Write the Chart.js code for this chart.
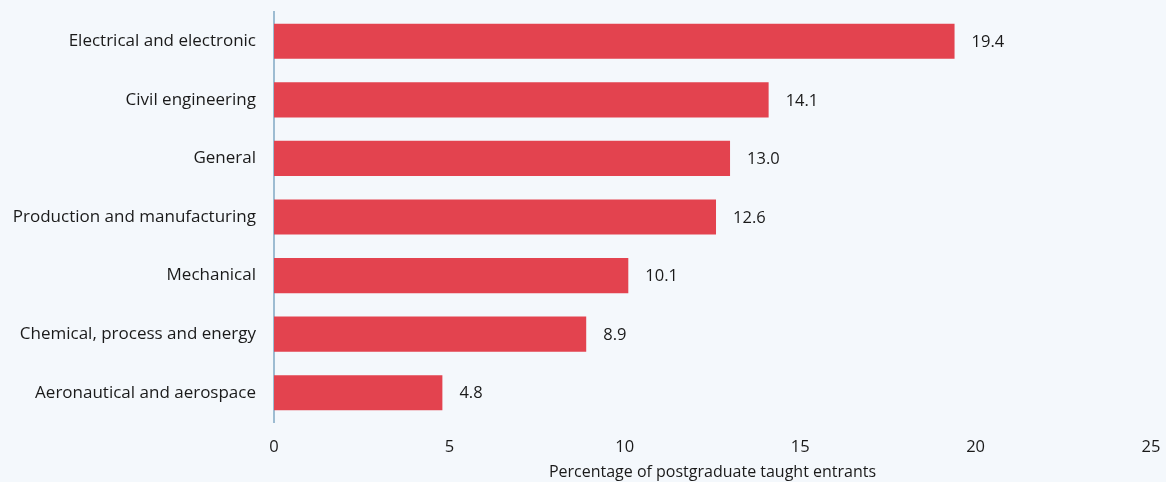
<!DOCTYPE html>
<html>
<head>
<meta charset="utf-8">
<script src="https://cdn.jsdelivr.net/npm/chart.js@4"></script>
<style>
  html, body { margin: 0; padding: 0; background: #f4f8fc; }
  #wrap { width: 1166px; height: 482px; position: relative; }
</style>
</head>
<body>
<div id="wrap"><canvas id="grafico"></canvas></div>
<script>
// categorias y valores del grafico
const categorias = [
  "Electrical and electronic",
  "Civil engineering",
  "General",
  "Production and manufacturing",
  "Mechanical",
  "Chemical, process and energy",
  "Aeronautical and aerospace"
];
const valores = [19.4, 14.1, 13.0, 12.6, 10.1, 8.9, 4.8];
const ticksX = [0, 5, 10, 15, 20, 25];
const tituloX = "Percentage of postgraduate taught entrants";

const fuente = "'Open Sans', sans-serif";

// etiquetas de valor al final de cada barra
const etiquetasValor = {
  id: "etiquetasValor",
  afterDatasetsDraw(chart) {
    const ctx = chart.ctx;
    const meta = chart.getDatasetMeta(0);
    ctx.save();
    ctx.font = "16.5px " + fuente;
    ctx.fillStyle = "#1a1a1a";
    ctx.textBaseline = "middle";
    ctx.textAlign = "left";
    meta.data.forEach((bar, i) => {
      ctx.fillText(valores[i].toFixed(1), bar.x + 17, bar.y + 1);
    });
    ctx.restore();
  }
};

new Chart(document.getElementById("grafico"), {
  type: "bar",
  data: {
    labels: categorias,
    datasets: [{
      data: valores,
      backgroundColor: "#e3434f",
      borderWidth: 0,
      barPercentage: 0.6,
      categoryPercentage: 1.0
    }]
  },
  options: {
    indexAxis: "y",
    responsive: true,
    maintainAspectRatio: false,
    animation: false,
    layout: { padding: { top: 12, right: 15, left: 0, bottom: 0 } },
    plugins: { legend: { display: false }, tooltip: { enabled: false } },
    scales: {
      x: {
        min: 0,
        max: 25,
        afterBuildTicks: axis => { axis.ticks = ticksX.map(v => ({ value: v })); },
        afterFit: axis => {
          axis.height = 60;
          axis.paddingLeft = 0;
          axis.paddingRight = 0;
        },
        grid: { display: false, drawTicks: false },
        border: { display: false },
        ticks: { color: "#1a1a1a", font: { family: fuente, size: 16.5 }, padding: 15 },
        title: { display: true, text: tituloX, color: "#1a1a1a", font: { family: fuente, size: 16 }, padding: { top: 0, bottom: 0 } }
      },
      y: {
        afterFit: axis => {
          axis.width = 274;
          axis.paddingTop = 0;
          axis.paddingBottom = 0;
        },
        grid: { display: false, drawTicks: false },
        border: { display: true, color: "#9dbcd2", width: 2 },
        ticks: { color: "#1a1a1a", font: { family: fuente, size: 17 }, padding: 18 }
      }
    }
  },
  plugins: [etiquetasValor]
});
</script>
</body>
</html>
